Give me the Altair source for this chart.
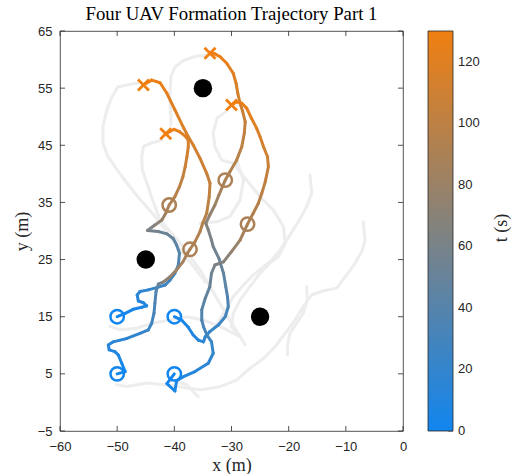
import altair as alt
import pandas as pd

# ---------------- data ----------------
# UAV 1 (starts at (-50, 15))
u1_x = [-50.0, -48.6, -47.2, -45.7, -44.84, -45.4, -46.3, -46.5, -46.0, -44.55, -43.1, -41.6, -40.76, -39.9, -39.3, -39.1, -39.6, -40.2, -41.3, -42.8, -44.7, -43.4, -42.2, -41.5, -40.9, -39.9, -39.1, -38.5, -38.1, -37.8, -37.56, -37.56, -38.1, -39.1, -40.05, -41.5]
u1_y = [15.0, 15.6, 16.3, 16.65, 16.9, 17.45, 17.75, 18.8, 19.4, 19.7, 20.1, 20.55, 21.4, 22.6, 24.05, 26.1, 27.55, 28.7, 29.5, 29.9, 30.1, 31.05, 31.9, 33.1, 34.55, 36.0, 37.75, 39.5, 41.25, 43.0, 44.75, 45.9, 46.6, 47.4, 47.8, 47.0]
u1_t = [0, 2, 4, 6, 8, 10, 12, 14, 16, 19, 22, 25, 28, 31, 35, 39, 43, 47, 51, 55, 60, 68, 75, 82, 90, 94, 98, 102, 106, 110, 114, 117, 120, 123, 126, 130]

# UAV 2 (starts at (-50, 5))
u2_x = [-50.0, -48.6, -49.2, -49.8, -50.4, -51.4, -51.55, -50.7, -48.3, -46.0, -44.55, -43.96, -43.56, -43.4, -43.2, -42.8, -41.9, -40.76, -39.6, -38.5, -37.7, -37.26, -36.4, -35.5, -35.04, -34.34, -33.9, -33.76, -34.34, -35.5, -36.7, -37.56, -38.4, -39.9, -41.3, -42.5, -43.96, -45.4]
u2_y = [5.0, 5.4, 6.85, 8.3, 8.9, 9.2, 10.05, 10.6, 11.2, 12.1, 12.7, 13.85, 15.6, 17.35, 19.4, 20.7, 21.1, 22.0, 23.2, 24.6, 26.1, 26.8, 28.1, 29.9, 31.35, 33.1, 36.0, 38.35, 40.1, 42.7, 45.05, 46.5, 48.1, 51.2, 54.1, 55.95, 56.4, 55.55]
u2_t = [0, 2, 4, 6, 8, 10, 12, 14, 17, 20, 23, 26, 30, 34, 38, 42, 72, 76, 80, 84, 88, 90, 92, 94, 96, 98, 101, 104, 107, 110, 113, 115, 117, 120, 123, 126, 128, 130]

# UAV 3 (starts at (-40, 15))
u3_x = [-40.0, -38.7, -37.56, -36.7, -35.8, -34.9, -34.6, -33.8, -32.3, -31.1, -30.56, -30.7, -31.0, -31.4, -32.2, -33.2, -33.5, -34.06, -34.5, -33.8, -32.9, -32.2, -31.1, -30.26, -29.1, -28.2, -27.76, -27.6, -28.04, -28.5, -28.9, -29.2, -29.7, -30.84, -32.0, -32.9, -33.76]
u3_y = [15.0, 14.4, 13.15, 11.8, 10.9, 10.6, 11.5, 12.4, 13.55, 15.0, 16.75, 18.5, 20.25, 22.6, 25.2, 27.25, 28.4, 30.2, 31.35, 32.8, 34.55, 36.3, 38.9, 40.4, 42.4, 44.75, 47.1, 49.1, 50.9, 52.35, 54.1, 55.85, 57.6, 59.35, 60.5, 61.0, 61.1]
u3_t = [0, 3, 6, 9, 12, 15, 18, 21, 25, 29, 33, 37, 41, 46, 52, 57, 60, 65, 69, 74, 79, 84, 90, 93, 96, 99, 102, 105, 108, 111, 114, 117, 120, 124, 127, 129, 130]

# UAV 4 (starts at (-40, 5))
u4_x = [-40.0, -41.3, -39.9, -39.6, -38.4, -36.4, -34.06, -33.2, -33.5, -34.3, -34.9, -35.2, -35.2, -34.6, -33.8, -33.5, -32.9, -31.4, -30.0, -28.5, -27.2, -26.2, -25.3, -24.7, -24.1, -23.55, -23.7, -24.4, -25.0, -25.6, -26.5, -27.35, -28.2, -29.1, -30.0]
u4_y = [5.0, 3.3, 2.0, 3.8, 4.5, 5.4, 6.85, 8.6, 10.6, 11.8, 13.25, 14.4, 16.2, 18.2, 20.25, 22.6, 24.05, 24.6, 26.4, 28.4, 31.2, 33.1, 34.85, 36.6, 38.6, 41.25, 43.0, 44.75, 46.5, 47.97, 49.7, 51.5, 52.35, 52.6, 52.05]
u4_t = [0, 2, 4, 6, 9, 12, 16, 20, 24, 28, 32, 36, 40, 45, 50, 55, 60, 66, 74, 82, 90, 93, 96, 99, 102, 106, 109, 112, 115, 118, 121, 124, 126, 128, 130]

# markers
start_x = [-50.0, -50.0, -40.0, -40.0]
start_y = [15.0, 5.0, 15.0, 5.0]
mid_x = [-40.9, -37.26, -31.1, -27.2]
mid_y = [34.55, 26.8, 38.9, 31.2]
end_x = [-41.5, -45.4, -33.76, -30.0]
end_y = [47.0, 55.55, 61.1, 52.05]
start_t, mid_t, end_t = 0, 90, 130

# obstacles
obs_x = [-35.0, -45.0, -25.0]
obs_y = [55.0, 25.0, 15.0]

# faint background paths
g_paths = [
    ([-46.4, -48.1, -49.9, -50.9, -51.8, -52.5, -52.5, -51.6, -50.0, -48.3, -46.4, -43.9, -41.6, -39.9, -38.1, -36.4, -34.6],
     [55.9, 55.6, 55.2, 53.5, 51.2, 48.2, 45.4, 43.0, 40.7, 38.4, 36.0, 33.2, 30.2, 27.9, 25.6, 23.5, 21.1]),
    ([-34.1, -36.2, -38.5, -39.9, -40.6, -40.8, -40.6, -40.6],
     [60.8, 60.6, 59.8, 58.7, 57.0, 53.5, 50.0, 48.5]),
    ([-42.2, -44.0, -45.4, -45.7, -45.6, -44.8, -44.0, -42.5, -40.8, -39.0, -35.5, -32.9, -30.3, -27.6],
     [45.9, 45.4, 44.8, 43.0, 40.7, 38.4, 36.0, 31.9, 30.0, 27.9, 23.2, 18.8, 14.4, 10.1]),
    ([-31.1, -32.5, -33.2, -32.9, -31.7, -29.7, -27.35, -25.0, -22.7, -20.9, -20.6, -21.8, -23.3, -25.0, -26.8, -28.5, -29.7, -30.0, -28.5],
     [50.8, 49.8, 47.2, 44.7, 42.4, 41.85, 38.9, 36.0, 33.7, 30.75, 27.85, 25.5, 24.35, 22.6, 20.25, 17.9, 15.6, 13.25, 11.5]),
    ([-16.27, -15.97, -16.85, -18.0, -19.2, -20.35, -21.5, -23.0, -24.4, -26.2, -27.9, -29.7, -30.8, -32.5, -34.6],
     [39.8, 36.6, 34.25, 32.2, 30.2, 28.4, 26.7, 24.9, 23.75, 22.3, 20.55, 18.5, 16.5, 13.8, 11.3]),
    ([-50.1, -48.3, -44.8, -40.8, -37.5, -35.5, -32.0, -29.1, -26.8, -24.4, -22.4, -20.6, -18.9, -17.45, -16.0, -13.9, -11.6, -9.85, -8.4, -7.2, -6.65, -6.95],
     [3.1, 2.8, 3.4, 3.0, 2.5, 2.2, 2.75, 3.9, 5.95, 7.7, 9.75, 12.1, 14.4, 16.75, 18.8, 19.55, 20.0, 22.3, 24.35, 26.4, 28.4, 31.6]),
    ([-16.85, -16.75, -17.45, -18.6, -19.8, -20.2, -20.2],
     [20.25, 17.9, 15.6, 13.85, 12.1, 9.75, 8.3]),
    ([-51.3, -49.5, -46.6, -43.7, -40.8, -37.8, -34.9, -32.0, -28.5],
     [13.3, 12.7, 13.0, 13.9, 14.4, 15.0, 14.4, 13.3, 11.5]),
    ([-40.8, -37.8, -35.8],
     [3.9, 3.1, 1.0]),
    ([-29.1, -27.9, -28.5, -30.3, -32.6, -35.5],
     [42.4, 38.9, 35.4, 32.5, 31.6, 31.35]),
]

x_ticks = [-60, -50, -40, -30, -20, -10, 0]
y_ticks = [-5, 5, 15, 25, 35, 45, 55, 65]
c_ticks = [0, 20, 40, 60, 80, 100, 120]
c_max = 130
title_text = "Four UAV Formation Trajectory Part 1"

# ---------------- tables ----------------
seg_rows = []
for k, (xs_, ys_, ts_) in enumerate([(u1_x, u1_y, u1_t), (u2_x, u2_y, u2_t),
                                     (u3_x, u3_y, u3_t), (u4_x, u4_y, u4_t)]):
    for i in range(len(xs_) - 1):
        seg_rows.append({"uav": k + 1, "x": xs_[i], "y": ys_[i], "x2": xs_[i + 1],
                         "y2": ys_[i + 1], "t": (ts_[i] + ts_[i + 1]) / 2})
segs = pd.DataFrame(seg_rows)

g_rows = []
for k, (gx, gy) in enumerate(g_paths):
    for i, (a, b) in enumerate(zip(gx, gy)):
        g_rows.append({"path": k, "i": i, "x": a, "y": b})
gray = pd.DataFrame(g_rows)

starts = pd.DataFrame({"x": start_x, "y": start_y, "t": [start_t] * 4})
mids = pd.DataFrame({"x": mid_x, "y": mid_y, "t": [mid_t] * 4})
ends = pd.DataFrame({"x": end_x, "y": end_y, "t": [end_t] * 4})
obs = pd.DataFrame({"x": obs_x, "y": obs_y})

xs = alt.Scale(domain=[-60, 0], nice=False, zero=False)
ys = alt.Scale(domain=[-5, 65], nice=False, zero=False)
cs = alt.Scale(domain=[0, c_max], range=["#1186ef", "#f07f11"], interpolate="rgb")

LABEL_FONT = "Liberation Sans"
SERIF = "Liberation Serif"
INK = "#262626"

x_axis = alt.Axis(values=x_ticks, title="x (m)", grid=False, ticks=False, tickSize=0,
                  domain=False, labelPadding=9, labelFontSize=13, labelFont=LABEL_FONT,
                  labelColor=INK, labelFlush=False, titleFont=SERIF, titleFontSize=18,
                  titleFontWeight="normal", titleColor=INK, titleY=39,
                  titleBaseline="alphabetic")
y_axis = alt.Axis(values=y_ticks, title="y (m)", grid=False, ticks=False, tickSize=0,
                  domain=False, labelPadding=8, labelFontSize=13, labelFont=LABEL_FONT,
                  labelColor=INK, labelFlush=False, titleFont=SERIF, titleFontSize=18,
                  titleFontWeight="normal", titleColor=INK, titleAngle=270,
                  titleX=-33, titleY=200, titleBaseline="alphabetic", titleAlign="center")

X = lambda f: alt.X(f, scale=xs, axis=x_axis)
Y = lambda f: alt.Y(f, scale=ys, axis=y_axis)

gray_layer = alt.Chart(gray).mark_line(color="#ededed", strokeWidth=3, strokeCap="round",
                                        strokeJoin="round").encode(
    x=X("x:Q"), y=Y("y:Q"), detail="path:N", order="i:Q")

traj_layer = alt.Chart(segs).mark_rule(strokeWidth=3, strokeCap="round").encode(
    x=X("x:Q"), y=Y("y:Q"), x2="x2:Q", y2="y2:Q",
    color=alt.Color("t:Q", scale=cs, legend=alt.Legend(
        title=None, orient="none", legendX=368, legendY=0, direction="vertical",
        gradientLength=400, gradientThickness=25, labelOpacity=0, labelExpr="''",
        values=c_ticks, gradientStrokeColor=INK, gradientStrokeWidth=0.8)),
)

def ring_layer(df, size):
    return alt.Chart(df).mark_point(shape="circle", filled=False, strokeWidth=2.5,
                                    size=size, opacity=1).encode(
        x=X("x:Q"), y=Y("y:Q"), stroke=alt.Stroke("t:Q", scale=cs, legend=None))

start_layer = ring_layer(starts, 180)
mid_layer = ring_layer(mids, 180)
end_layer = alt.Chart(ends).mark_point(shape="M-1,-1L1,1M-1,1L1,-1", filled=False,
                                       strokeWidth=2.8, size=121, opacity=1).encode(
    x=X("x:Q"), y=Y("y:Q"), stroke=alt.Stroke("t:Q", scale=cs, legend=None))

obs_layer = alt.Chart(obs).mark_circle(color="black", size=340, opacity=1).encode(
    x=X("x:Q"), y=Y("y:Q"))

xt = pd.DataFrame({"v": x_ticks})
yt = pd.DataFrame({"v": y_ticks})
tick_bottom = alt.Chart(xt).mark_rule(color=INK, strokeWidth=0.8).encode(
    x=X("v:Q"), y=alt.value(400), y2=alt.value(395))
tick_top = alt.Chart(xt).mark_rule(color=INK, strokeWidth=0.8).encode(
    x=X("v:Q"), y=alt.value(0), y2=alt.value(5))
tick_left = alt.Chart(yt).mark_rule(color=INK, strokeWidth=0.8).encode(
    y=Y("v:Q"), x=alt.value(0), x2=alt.value(5))
tick_right = alt.Chart(yt).mark_rule(color=INK, strokeWidth=0.8).encode(
    y=Y("v:Q"), x=alt.value(343), x2=alt.value(338))

# colour-bar ticks and labels: t mapped onto the plot's vertical extent through the y scale
ct = pd.DataFrame({"tv": c_ticks})
cbar_base = alt.Chart(ct).transform_calculate(yy=f"-5 + datum.tv * 70 / {c_max}")
cbar_ticks = cbar_base.mark_rule(color=INK, strokeWidth=0.8).encode(
    y=Y("yy:Q"), x=alt.value(388), x2=alt.value(393))
cbar_labels = cbar_base.mark_text(font=LABEL_FONT, fontSize=13, color=INK, align="left",
                                  baseline="middle").encode(
    y=Y("yy:Q"), x=alt.value(398), text=alt.Text("tv:Q", format="d"))

cbar_title = alt.Chart(pd.DataFrame({"label": ["t (s)"]})).mark_text(
    angle=270, font=SERIF, fontSize=18, align="center", baseline="alphabetic",
    color=INK).encode(x=alt.value(447), y=alt.value(197), text="label:N")

title_layer = alt.Chart(pd.DataFrame({"label": [title_text]})).mark_text(
    font=SERIF, fontSize=18.8, align="center", baseline="alphabetic",
    color="#000000").encode(x=alt.value(171.5), y=alt.value(-11), text="label:N")

chart = alt.layer(gray_layer, traj_layer, start_layer, mid_layer, end_layer, obs_layer,
                  tick_bottom, tick_top, tick_left, tick_right, cbar_ticks, cbar_labels,
                  cbar_title, title_layer).properties(
    width=343, height=400,
    padding={"left": 60, "top": 31, "right": 112, "bottom": 43},
    autosize=alt.AutoSizeParams(type="none"),
).configure_view(stroke=INK, strokeWidth=0.8)

chart.save("out.html", embed_options={"renderer": "svg", "actions": False})
